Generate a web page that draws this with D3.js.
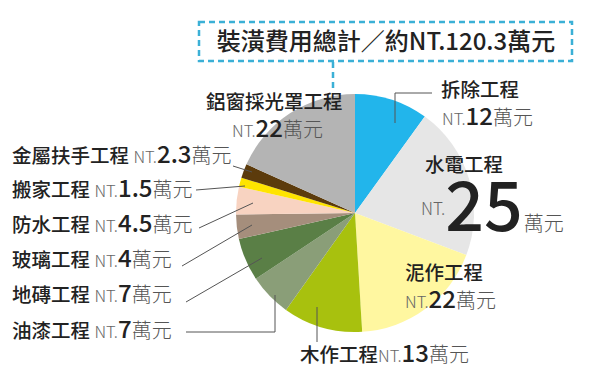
<!DOCTYPE html>
<html>
<head>
<meta charset="utf-8">
<script src="https://d3js.org/d3.v7.min.js"></script>
<style>
  body { margin: 0; background: #fff; }
  text { font-family: "Noto Sans CJK TC", "Noto Sans", sans-serif; }
</style>
</head>
<body>
<div id="container"></div>
<script>
var width = 600, height = 374;

// data, clockwise from 12 o'clock
var items = ["拆除工程", "水電工程", "泥作工程", "木作工程", "油漆工程", "地磚工程",
             "玻璃工程", "防水工程", "搬家工程", "金屬扶手工程", "鋁窗採光罩工程"];
var costs = [12, 25, 22, 13, 7, 7, 4, 4.5, 1.5, 2.3, 22];
var costLabels = ["12", "25", "22", "13", "7", "7", "4", "4.5", "1.5", "2.3", "22"];
var colors = ["#22b5eb", "#e6e6e6", "#fff7a0", "#a8c10e", "#8a9e78", "#5a7f46",
              "#a58e7c", "#f8d3c1", "#ffe400", "#5c3b0c", "#b4b4b4"];
var totalText = "裝潢費用總計／約NT.120.3萬元";

var cx = 355, cy = 213, r = 119;

var svg = d3.select("#container").append("svg")
    .attr("width", width)
    .attr("height", height);

// title box
svg.append("rect")
    .attr("x", 199).attr("y", 22).attr("width", 373).attr("height", 39)
    .attr("fill", "none").attr("stroke", "#3bb0d6")
    .attr("stroke-width", 2.5).attr("stroke-dasharray", "6,4");
svg.append("line")
    .attr("x1", 333).attr("y1", 62).attr("x2", 333).attr("y2", 92)
    .attr("stroke", "#3bb0d6").attr("stroke-width", 2.5)
    .attr("stroke-dasharray", "6,4");
svg.append("text")
    .attr("x", 386).attr("y", 50)
    .attr("text-anchor", "middle")
    .attr("font-size", 24).attr("font-weight", 500).attr("fill", "#222")
    .text(totalText);

// pie
var pie = d3.pie().sort(null).value(function(d) { return d; });
var arc = d3.arc().innerRadius(0).outerRadius(r);

var g = svg.append("g").attr("transform", "translate(" + cx + "," + cy + ")");
g.selectAll("path")
  .data(pie(costs))
  .enter()
  .append("path")
  .attr("d", arc)
  .attr("fill", function(d, i) { return colors[i]; });

// leader lines (layout)
var leaders = [
  [[432, 93], [395, 93], [395, 123]],
  null, null,
  [[317, 307], [317, 342]],
  [[186, 332], [275, 332], [275, 295]],
  [[186, 302], [262, 258]],
  [[182, 266], [252, 225]],
  [[199, 228], [253, 203]],
  [[196, 190], [245, 186]],
  [[233, 166], [252, 172]],
  null
];
var line = d3.line();
svg.selectAll("path.leader")
  .data(leaders.filter(function(d) { return d; }))
  .enter()
  .append("path")
  .attr("class", "leader")
  .attr("d", line)
  .attr("fill", "none")
  .attr("stroke", "#555")
  .attr("stroke-width", 1);

function nt(x, y, name, i, opts) {
  var txt = svg.append("text").attr("x", x).attr("y", y);
  if (name) {
    txt.append("tspan").attr("font-size", 19.5).attr("font-weight", 500)
      .attr("fill", "#222").text(items[i] + (opts.gap ? " " : ""));
  }
  txt.append("tspan").attr("font-size", opts.ntSize || 16.5).attr("font-weight", 300)
    .attr("fill", "#666").attr("dy", opts.ntDy || 0).text("NT.");
  txt.append("tspan").attr("font-size", opts.numSize || 24).attr("font-weight", 500)
    .attr("fill", "#222").attr("dx", opts.numDx || 0).attr("dy", -(opts.ntDy || 0))
    .text(costLabels[i]);
  txt.append("tspan").attr("font-size", 20).attr("font-weight", 300)
    .attr("fill", "#555").attr("dx", opts.unitDx || 0).text("萬元");
  return txt;
}

function title(i, x, y) {
  svg.append("text").attr("x", x).attr("y", y)
    .attr("font-size", 19.5).attr("font-weight", 500).attr("fill", "#222")
    .text(items[i]);
}

// left stacked labels
var leftRows = [[9, 163], [8, 197], [7, 232], [6, 267], [5, 302], [4, 338]];
leftRows.forEach(function(p) {
  nt(12, p[1], true, p[0], { gap: true });
});

// right / top labels
title(0, 441, 97);
nt(442, 125, false, 0, {});
title(1, 425, 172);
nt(421, 231, false, 1, { ntSize: 17, ntDy: -16, numSize: 68, numDx: 0, unitDx: 1 });
title(2, 405, 280);
nt(405, 308, false, 2, {});
nt(300, 362, true, 3, {});
title(10, 206, 109);
nt(232, 137, false, 10, {});
</script>
</body>
</html>
